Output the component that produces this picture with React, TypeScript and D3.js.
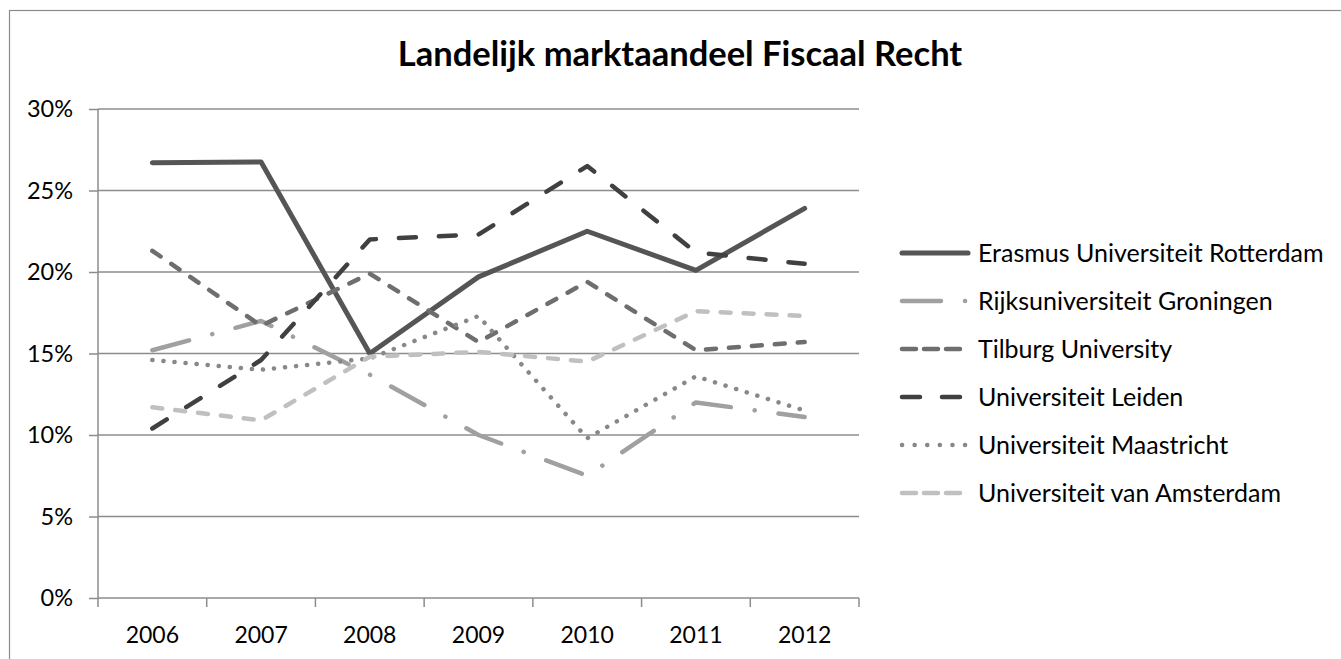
import React, { useEffect, useRef } from "react";
import * as d3 from "d3";

const years = ["2006", "2007", "2008", "2009", "2010", "2011", "2012"];
const yTicks = [0, 0.05, 0.1, 0.15, 0.2, 0.25, 0.3];

const seriesNames = [
    "Erasmus Universiteit Rotterdam",
    "Rijksuniversiteit Groningen",
    "Tilburg University",
    "Universiteit Leiden",
    "Universiteit Maastricht",
    "Universiteit van Amsterdam",
];

const erasmus = [0.267, 0.2675, 0.15, 0.197, 0.225, 0.201, 0.239];
const groningen = [0.152, 0.17, 0.137, 0.1, 0.075, 0.12, 0.111];
const tilburg = [0.213, 0.167, 0.199, 0.157, 0.194, 0.152, 0.157];
const leiden = [0.104, 0.146, 0.22, 0.223, 0.265, 0.212, 0.205];
const maastricht = [0.146, 0.14, 0.147, 0.173, 0.098, 0.136, 0.115];
const amsterdam = [0.117, 0.109, 0.148, 0.151, 0.145, 0.176, 0.173];

const seriesValues = [erasmus, groningen, tilburg, leiden, maastricht, amsterdam];

const styles = [
    { color: "#555555", width: 5, dash: null },
    { color: "#a0a0a0", width: 4.5, dash: "38 24 0.1 24" },
    { color: "#6e6e6e", width: 4.5, dash: "10 13" },
    { color: "#404040", width: 4.5, dash: "17 23" },
    { color: "#888888", width: 4.5, dash: "0.1 11" },
    { color: "#c0c0c0", width: 4.5, dash: "10 13" },
];

const legendDash = [null, "39 24 0.1 30", "14 8", "18 22", "0.1 12.5", "14 8"];

const FONT = "Lato, 'Open Sans', sans-serif";

const App = () => {
    const svgRef = useRef(null);

    useEffect(() => {
        const svg = d3.select(svgRef.current);
        svg.selectAll("*").remove();

        const left = 98;
        const right = 859;
        const top = 109;
        const bottom = 598;

        const x = d3.scaleBand().domain(years).range([left, right]);
        const y = d3.scaleLinear().domain([0, 0.3]).range([bottom, top]);

        // outer chart border
        svg
            .append("rect")
            .attr("x", 9.5)
            .attr("y", 10.5)
            .attr("width", 1400)
            .attr("height", 700)
            .attr("fill", "white")
            .attr("stroke", "#8c8c8c")
            .attr("stroke-width", 1.2);

        svg
            .append("text")
            .attr("x", 680)
            .attr("y", 66)
            .attr("text-anchor", "middle")
            .attr("font-family", FONT)
            .attr("font-weight", "bold")
            .attr("font-size", 34.5)
            .attr("fill", "#000")
            .text("Landelijk marktaandeel Fiscaal Recht");

        // y axis labels + tick stubs
        const yAxis = svg
            .append("g")
            .attr("transform", `translate(${left},0)`)
            .call(
                d3
                    .axisLeft(y)
                    .tickValues(yTicks)
                    .tickSize(9)
                    .tickPadding(16)
                    .tickFormat(d3.format(".0%"))
            );
        yAxis.select(".domain").remove();
        yAxis.selectAll("line").attr("stroke", "#8c8c8c").attr("stroke-width", 1.5);
        yAxis
            .selectAll("text")
            .attr("font-family", FONT)
            .attr("font-size", 23.5)
            .attr("fill", "#000");

        // gridlines
        svg
            .append("g")
            .selectAll("line")
            .data(yTicks)
            .join("line")
            .attr("x1", left)
            .attr("x2", right)
            .attr("y1", d => y(d))
            .attr("y2", d => y(d))
            .attr("stroke", "#8c8c8c")
            .attr("stroke-width", 1.5);

        svg
            .append("line")
            .attr("x1", left)
            .attr("x2", left)
            .attr("y1", top)
            .attr("y2", bottom)
            .attr("stroke", "#8c8c8c")
            .attr("stroke-width", 1.5);

        // x axis ticks at band edges
        const edges = years.map(d => x(d)).concat([right]);
        svg
            .append("g")
            .selectAll("line")
            .data(edges)
            .join("line")
            .attr("x1", d => d)
            .attr("x2", d => d)
            .attr("y1", bottom)
            .attr("y2", bottom + 9)
            .attr("stroke", "#8c8c8c")
            .attr("stroke-width", 1.5);

        svg
            .append("g")
            .selectAll("text")
            .data(years)
            .join("text")
            .attr("x", d => x(d) + x.bandwidth() / 2)
            .attr("y", 643)
            .attr("text-anchor", "middle")
            .attr("font-family", FONT)
            .attr("font-size", 23)
            .attr("fill", "#000")
            .text(d => d);

        // series lines
        const line = d3
            .line()
            .x((d, i) => x(years[i]) + x.bandwidth() / 2)
            .y(d => y(d));

        seriesValues.forEach((vals, i) => {
            const s = styles[i];
            svg
                .append("path")
                .datum(vals)
                .attr("fill", "none")
                .attr("stroke", s.color)
                .attr("stroke-width", s.width)
                .attr("stroke-linejoin", "round")
                .attr("stroke-linecap", "round")
                .attr("stroke-dasharray", s.dash)
                .attr("d", line);
        });

        // legend
        const legend = svg
            .append("g")
            .selectAll("g")
            .data(seriesNames)
            .join("g")
            .attr("transform", (d, i) => `translate(0,${253 + i * 48})`);

        legend
            .append("line")
            .attr("x1", 902)
            .attr("x2", (d, i) => (i === 4 ? 966 : 968))
            .attr("y1", 0)
            .attr("y2", 0)
            .attr("stroke", (d, i) => styles[i].color)
            .attr("stroke-width", (d, i) => styles[i].width)
            .attr("stroke-linecap", "round")
            .attr("stroke-dasharray", (d, i) => legendDash[i]);

        legend
            .append("text")
            .attr("x", 978)
            .attr("y", 0)
            .attr("dy", "0.35em")
            .attr("font-family", FONT)
            .attr("font-size", 25)
            .attr("fill", "#000")
            .text(d => d);
    }, []);

    return (
        <svg
            ref={svgRef}
            width={1341}
            height={659}
            style={{ position: "absolute", left: 0, top: 0 }}
        />
    );
};

export default App;
